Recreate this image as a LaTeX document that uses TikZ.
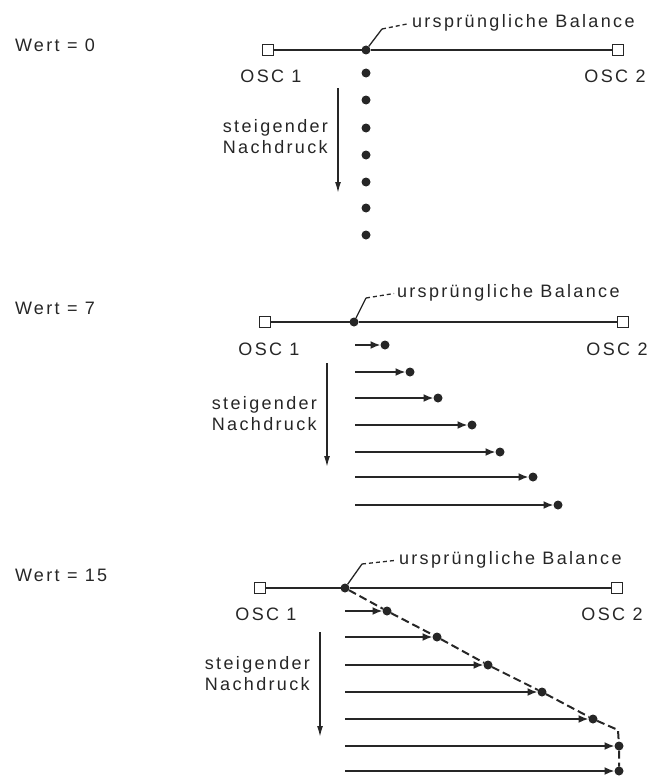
\documentclass[tikz,border=0pt]{standalone}
\usepackage{fontspec}
\setmainfont{Liberation Sans}[LetterSpace=13]
\usetikzlibrary{arrows.meta}
\begin{document}
\begin{tikzpicture}[x=1bp,y=-1bp,
  every node/.style={inner sep=0pt, outer sep=0pt},
  lbl/.style={font=\fontsize{18bp}{21bp}\selectfont, text=black!85},
  sqbox/.style={draw=black!85, line width=1.7bp, minimum size=11bp, fill=white},
  dotn/.style={circle, fill=black!85, minimum size=9bp},
  axisln/.style={draw=black!85, line width=1.7bp},
  rowarr/.style={draw=black!85, line width=1.8bp, -{Latex[length=10bp,width=8bp]}},
  press/.style={draw=black!85, line width=1.5bp, -{Latex[length=11bp,width=6bp]}},
  lead/.style={draw=black!85, line width=1.3bp},
  leaddash/.style={draw=black!85, line width=1.3bp, dash pattern=on 4bp off 3bp},
  trace/.style={draw=black!85, line width=2bp, dash pattern=on 8bp off 4bp}
]
\path[use as bounding box] (0,0) rectangle (650,776);

% ---------------- Panel 1: Wert = 0
\node[lbl, anchor=west] (w0) at (15,45) {Wert = 0};
\node[sqbox] (a1) at (268,50) {};
\node[sqbox] (a2) at (618,50) {};
\node[dotn] (ab) at (366,50) {};
\draw[axisln] (a1) -- (ab) -- (a2);
\node[lbl] (ao1) at (271,76) {OSC 1};
\node[lbl] (ao2) at (615,76) {OSC 2};
\node[lbl, anchor=west] (at) at (412,23) {ursprüngliche Balance};
\coordinate (ak) at (382,29);
\draw[lead] (ab) -- (ak);
\draw[leaddash, shorten >=3bp] (ak) -- (at.west);
\foreach \i/\y in {1/73,2/100,3/128,4/155,5/182,6/208,7/235}
  \node[dotn] (ad\i) at (366,\y) {};
\coordinate (ap1) at (338,88);
\coordinate (ap2) at (338,193);
\draw[press] (ap1) -- (ap2);
\node[lbl, align=left, anchor=east] (an) at (328,137) {steigender\\Nachdruck};

% ---------------- Panel 2: Wert = 7
\node[lbl, anchor=west] (w7) at (15,308) {Wert = 7};
\node[sqbox] (b1) at (265,322) {};
\node[sqbox] (b2) at (623,322) {};
\node[dotn] (bb) at (354,322) {};
\draw[axisln] (b1) -- (bb) -- (b2);
\node[lbl] (bo1) at (269,349) {OSC 1};
\node[lbl] (bo2) at (617,349) {OSC 2};
\node[lbl, anchor=west] (bt) at (397,293) {ursprüngliche Balance};
\coordinate (bk) at (366,298);
\draw[lead] (bb) -- (bk);
\draw[leaddash, shorten >=3bp] (bk) -- (bt.west);
\foreach \i/\y/\x in {1/345/385,2/372/410,3/398/438,4/425/472,5/452/500,6/477/533,7/505/558}{
  \node[dotn] (bd\i) at (\x,\y) {};
  \coordinate (bs\i) at (355,\y);
  \draw[rowarr] (bs\i) -- (bd\i);
}
\coordinate (bp1) at (327,363);
\coordinate (bp2) at (327,467);
\draw[press] (bp1) -- (bp2);
\node[lbl, align=left, anchor=east] (bn) at (317,414) {steigender\\Nachdruck};

% ---------------- Panel 3: Wert = 15
\node[lbl, anchor=west] (w15) at (15,575) {Wert = 15};
\node[sqbox] (c1) at (260,588) {};
\node[sqbox] (c2) at (617,588) {};
\node[dotn] (cb) at (345,588) {};
\draw[axisln] (c1) -- (cb) -- (c2);
\node[lbl] (co1) at (266,614) {OSC 1};
\node[lbl] (co2) at (612,614) {OSC 2};
\node[lbl, anchor=west] (ct) at (399,560) {ursprüngliche Balance};
\coordinate (ck) at (362,564);
\draw[lead] (cb) -- (ck);
\draw[leaddash, shorten >=3bp] (ck) -- (ct.west);
\foreach \i/\y/\x in {1/611/387,2/637/437,3/665/488,4/692/542,5/719/593,6/746/619,7/771/619}{
  \node[dotn] (cd\i) at (\x,\y) {};
  \coordinate (cs\i) at (345,\y);
  \draw[rowarr] (cs\i) -- (cd\i);
}
\coordinate (cc) at (618,730);
\draw[trace] (cb) -- (cd1) -- (cd2) -- (cd3) -- (cd4) -- (cd5) -- (cc) -- (cd6) -- (cd7);
\coordinate (cp1) at (320,632);
\coordinate (cp2) at (320,737);
\draw[press] (cp1) -- (cp2);
\node[lbl, align=left, anchor=east] (cn) at (310,674) {steigender\\Nachdruck};
\end{tikzpicture}
\end{document}
